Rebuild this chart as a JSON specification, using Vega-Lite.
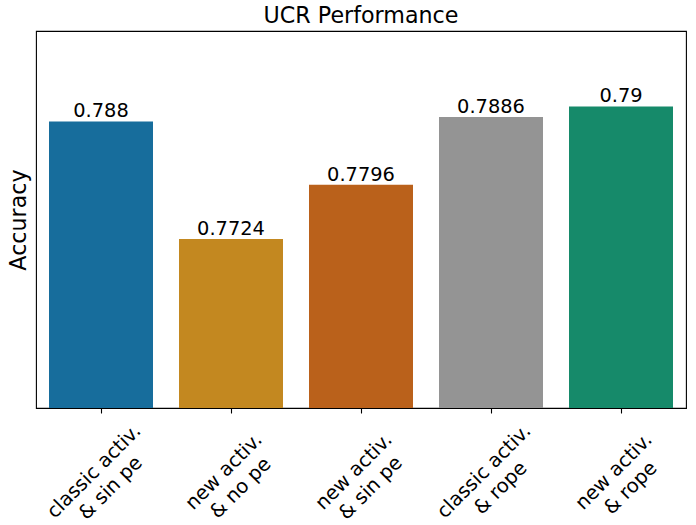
{
  "$schema": "https://vega.github.io/schema/vega-lite/v6.json",
  "description": "UCR Performance: accuracy by activation and positional encoding variant.",
  "width": 650,
  "height": 377,
  "autosize": "none",
  "padding": {"left": 36, "top": 31, "right": 10, "bottom": 117},
  "title": {
    "text": "UCR Performance",
    "fontSize": 22.2,
    "fontWeight": "normal",
    "offset": 4,
    "color": "black"
  },
  "data": {
    "values": [
      {"Model": "classic activ.\n& sin pe", "Accuracy": 0.788},
      {"Model": "new activ.\n& no pe", "Accuracy": 0.7724},
      {"Model": "new activ.\n& sin pe", "Accuracy": 0.7796},
      {"Model": "classic activ.\n& rope", "Accuracy": 0.7886},
      {"Model": "new activ.\n& rope", "Accuracy": 0.79}
    ]
  },
  "encoding": {
    "x": {
      "field": "Model",
      "type": "nominal",
      "sort": null,
      "title": null,
      "scale": {"paddingInner": 0.2, "paddingOuter": 0.1},
      "axis": {
        "labelExpr": "split(datum.label, '\\n')",
        "labelAngle": -45,
        "labelAlign": "center",
        "labelBaseline": "middle",
        "labelPadding": 58,
        "labelOffset": -7,
        "labelLineHeight": 23.5,
        "labelFontSize": 19.6,
        "labelColor": "black",
        "tickColor": "black",
        "tickSize": 5,
        "tickWidth": 1.1,
        "domainColor": "black",
        "domainWidth": 1.1,
        "grid": false
      }
    },
    "y": {
      "field": "Accuracy",
      "type": "quantitative",
      "title": "Accuracy",
      "scale": {"domain": [0.75, 0.8], "zero": false, "nice": false},
      "axis": {
        "labels": false,
        "ticks": false,
        "domain": false,
        "grid": false,
        "titleFontSize": 22.2,
        "titleFontWeight": "normal",
        "titleColor": "black",
        "titleBaseline": "alphabetic",
        "titlePadding": 11
      }
    }
  },
  "layer": [
    {
      "mark": {"type": "bar", "clip": true},
      "encoding": {
        "color": {
          "field": "Model",
          "type": "nominal",
          "sort": null,
          "legend": null,
          "scale": {"range": ["#176d9c", "#c38820", "#ba611b", "#949494", "#168a6a"]}
        }
      }
    },
    {
      "mark": {"type": "text", "baseline": "alphabetic", "dy": -4, "fontSize": 19.4, "color": "black"},
      "encoding": {
        "text": {"field": "Accuracy", "type": "quantitative"}
      }
    }
  ],
  "config": {
    "font": "DejaVu Sans",
    "view": {"stroke": "black", "strokeWidth": 1.1}
  }
}
